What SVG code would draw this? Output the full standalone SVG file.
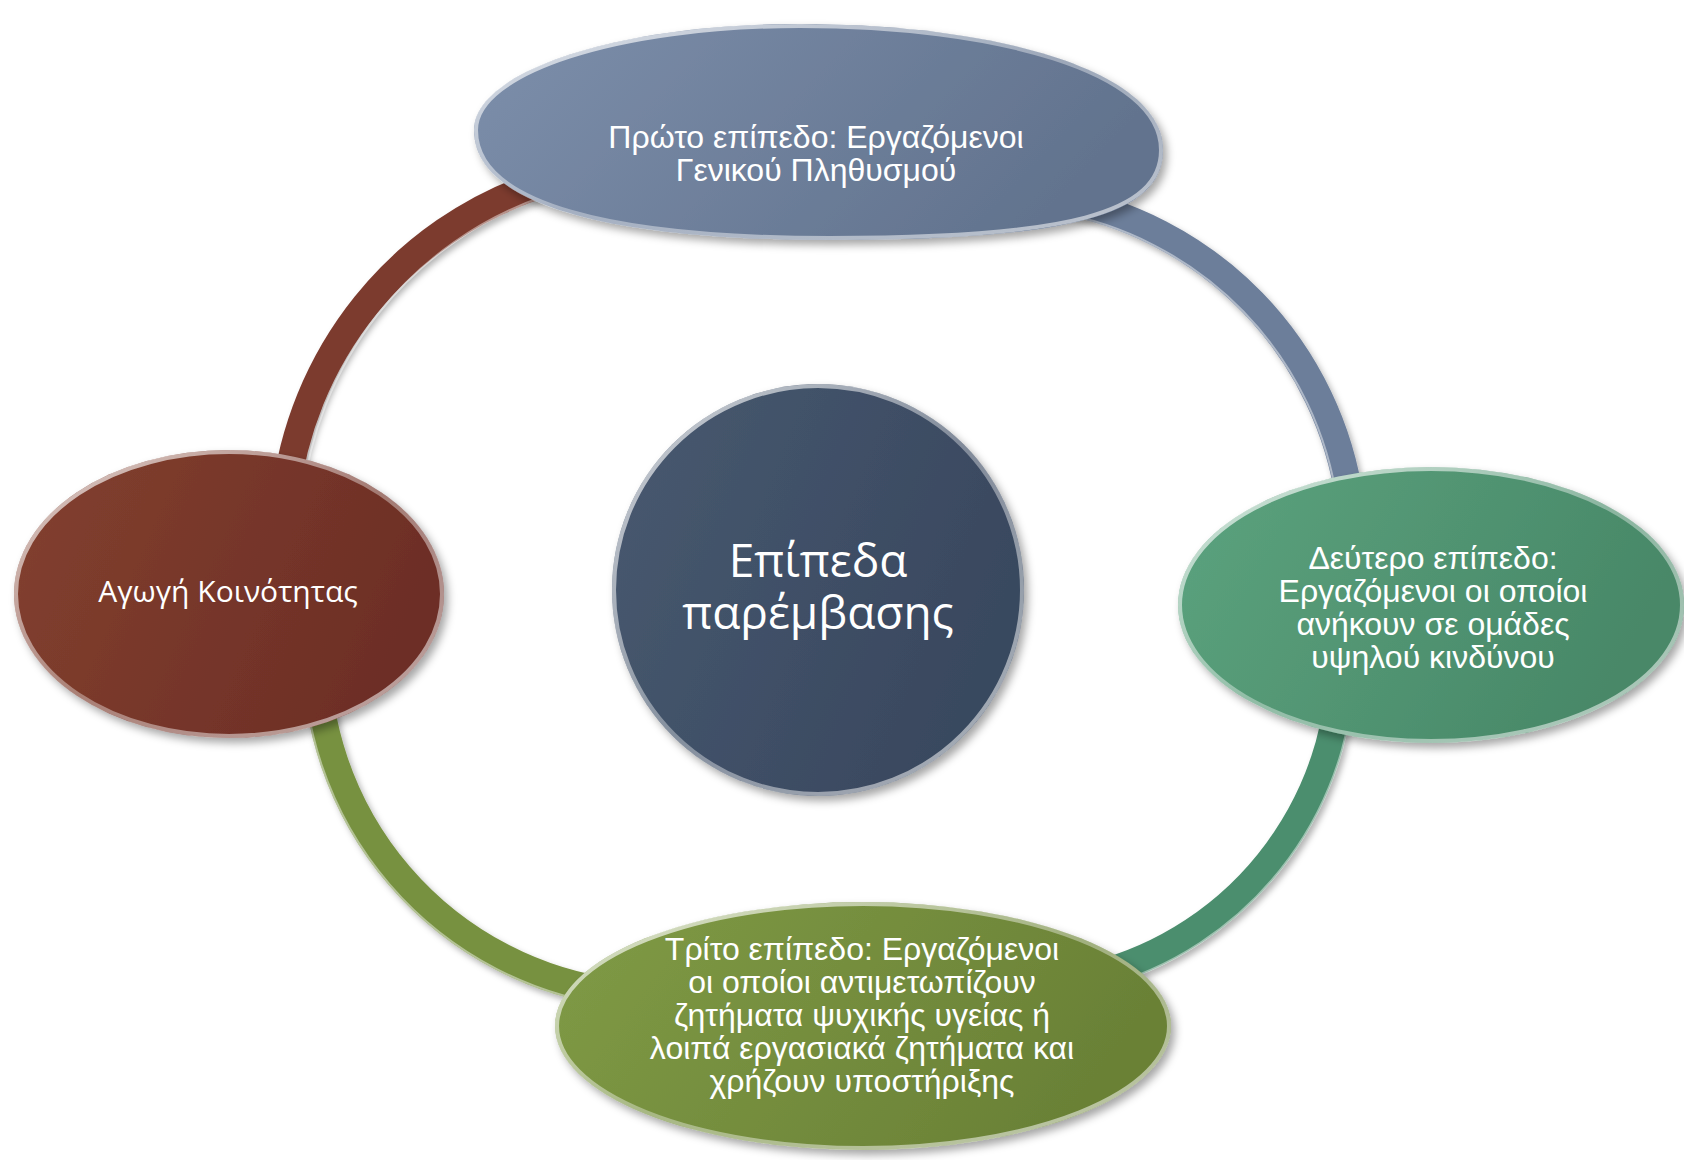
<svg xmlns="http://www.w3.org/2000/svg" width="1684" height="1160" viewBox="0 0 1684 1160">
<defs>
<filter id="sh" x="-15%" y="-15%" width="135%" height="140%">
<feDropShadow dx="4" dy="5" stdDeviation="4" flood-color="#000" flood-opacity="0.35"/>
</filter>
<filter id="ash" x="-15%" y="-15%" width="135%" height="135%">
<feDropShadow dx="3" dy="4" stdDeviation="3" flood-color="#000" flood-opacity="0.3"/>
</filter>
<linearGradient id="gBlue" x1="0" y1="0" x2="1" y2="0.3"><stop offset="0" stop-color="#7D8FAB"/><stop offset="1" stop-color="#62738E"/></linearGradient>
<linearGradient id="gCenter" x1="0" y1="0" x2="1" y2="0.4"><stop offset="0" stop-color="#485970"/><stop offset="1" stop-color="#39485F"/></linearGradient>
<linearGradient id="gGreen" x1="0" y1="0" x2="1" y2="0.3"><stop offset="0" stop-color="#5CA37E"/><stop offset="1" stop-color="#488868"/></linearGradient>
<linearGradient id="gRed" x1="0" y1="0" x2="1" y2="0.3"><stop offset="0" stop-color="#83412F"/><stop offset="1" stop-color="#6D2E26"/></linearGradient>
<linearGradient id="gOlive" x1="0" y1="0" x2="1" y2="0.3"><stop offset="0" stop-color="#809B46"/><stop offset="1" stop-color="#6A8136"/></linearGradient>
<linearGradient id="rim" x1="0" y1="0" x2="1" y2="1"><stop offset="0" stop-color="#fff" stop-opacity="0.75"/><stop offset="0.5" stop-color="#fff" stop-opacity="0.35"/><stop offset="1" stop-color="#fff" stop-opacity="0.6"/></linearGradient>
<style>
.rim{fill:none;stroke:url(#rim);stroke-width:4}
.arc{fill:none;stroke-width:28;stroke-linecap:butt}
.hl{fill:none;stroke:#fff;stroke-opacity:0.45;stroke-width:2}
.lbl{font-family:"Liberation Sans",Arial,sans-serif;font-size:32px;fill:#fff;text-anchor:middle}
.lbl2{font-family:"Open Sans","Noto Sans",sans-serif;fill:#fff;text-anchor:middle}
</style>
</defs>
<rect width="1684" height="1160" fill="#fff"/>
<g id="connectors">
<g filter="url(#ash)">
<path class="arc" stroke="#7C3B2F" d="M285,500 A375,375 0 0 1 538,185"/>
<path class="arc" stroke="#6C7E9A" d="M1056,199 A358,358 0 0 1 1350,502"/>
<path class="arc" stroke="#4B8E6E" d="M1341,636 A330,330 0 0 1 1092,976"/>
<path class="arc" stroke="#77913F" d="M620,993.6 A345,345 0 0 1 316.2,640"/>
</g>
<path class="hl" d="M302,501.4 A362,362 0 0 1 542.4,196.8"/>
<path class="hl" d="M1053.8,211.8 A345,345 0 0 1 1337.6,503.8"/>
<path class="hl" d="M1354.4,635.3 A343,343 0 0 1 1095.2,988.8" stroke-opacity="0.25"/>
<path class="hl" d="M618.6,1006.5 A358,358 0 0 1 303.2,639.6" stroke="#e8f5c0" stroke-opacity="0.7"/>
</g>
<g id="node-top">
<path d="M474,130 C474,72 616,24 800,24 C995,24 1163,70 1163,150 C1163,215 1070,240 830,240 C610,240 474,205 474,130 Z" fill="url(#gBlue)" filter="url(#sh)"/>
<path class="rim" d="M476,130 C476,73 617,26 800,26 C994,26 1161,71 1161,150 C1161,213 1069,238 830,238 C611,238 476,204 476,130 Z"/>
<text class="lbl" x="816" y="148">Πρώτο επίπεδο: Εργαζόμενοι</text>
<text class="lbl" x="816" y="181">Γενικού Πληθυσμού</text>
</g>
<g id="node-right">
<ellipse cx="1431" cy="605" rx="253" ry="138" fill="url(#gGreen)" filter="url(#sh)"/>
<ellipse class="rim" cx="1431" cy="605" rx="251" ry="136"/>
<text class="lbl" x="1433" y="569">Δεύτερο επίπεδο:</text>
<text class="lbl" x="1433" y="602">Εργαζόμενοι οι οποίοι</text>
<text class="lbl" x="1433" y="635">ανήκουν σε ομάδες</text>
<text class="lbl" x="1433" y="668">υψηλού κινδύνου</text>
</g>
<g id="node-bottom">
<ellipse cx="863" cy="1026" rx="308" ry="124" fill="url(#gOlive)" filter="url(#sh)"/>
<ellipse class="rim" cx="863" cy="1026" rx="306" ry="122"/>
<text class="lbl" x="862" y="960">Τρίτο επίπεδο: Εργαζόμενοι</text>
<text class="lbl" x="862" y="993">οι οποίοι αντιμετωπίζουν</text>
<text class="lbl" x="862" y="1026">ζητήματα ψυχικής υγείας ή</text>
<text class="lbl" x="862" y="1059">λοιπά εργασιακά ζητήματα και</text>
<text class="lbl" x="862" y="1092">χρήζουν υποστήριξης</text>
</g>
<g id="node-left">
<ellipse cx="229" cy="594" rx="215" ry="144" fill="url(#gRed)" filter="url(#sh)"/>
<ellipse class="rim" cx="229" cy="594" rx="213" ry="142"/>
<text class="lbl2" x="228" y="602" font-size="30">Αγωγή Κοινότητας</text>
</g>
<g id="node-center">
<circle cx="818" cy="590" r="206" fill="url(#gCenter)" filter="url(#sh)"/>
<circle class="rim" cx="818" cy="590" r="204"/>
<text class="lbl2" font-size="46"><tspan x="818" y="577">Επίπεδα</tspan><tspan x="818" y="629">παρέμβασης</tspan></text>
</g>
</svg>
